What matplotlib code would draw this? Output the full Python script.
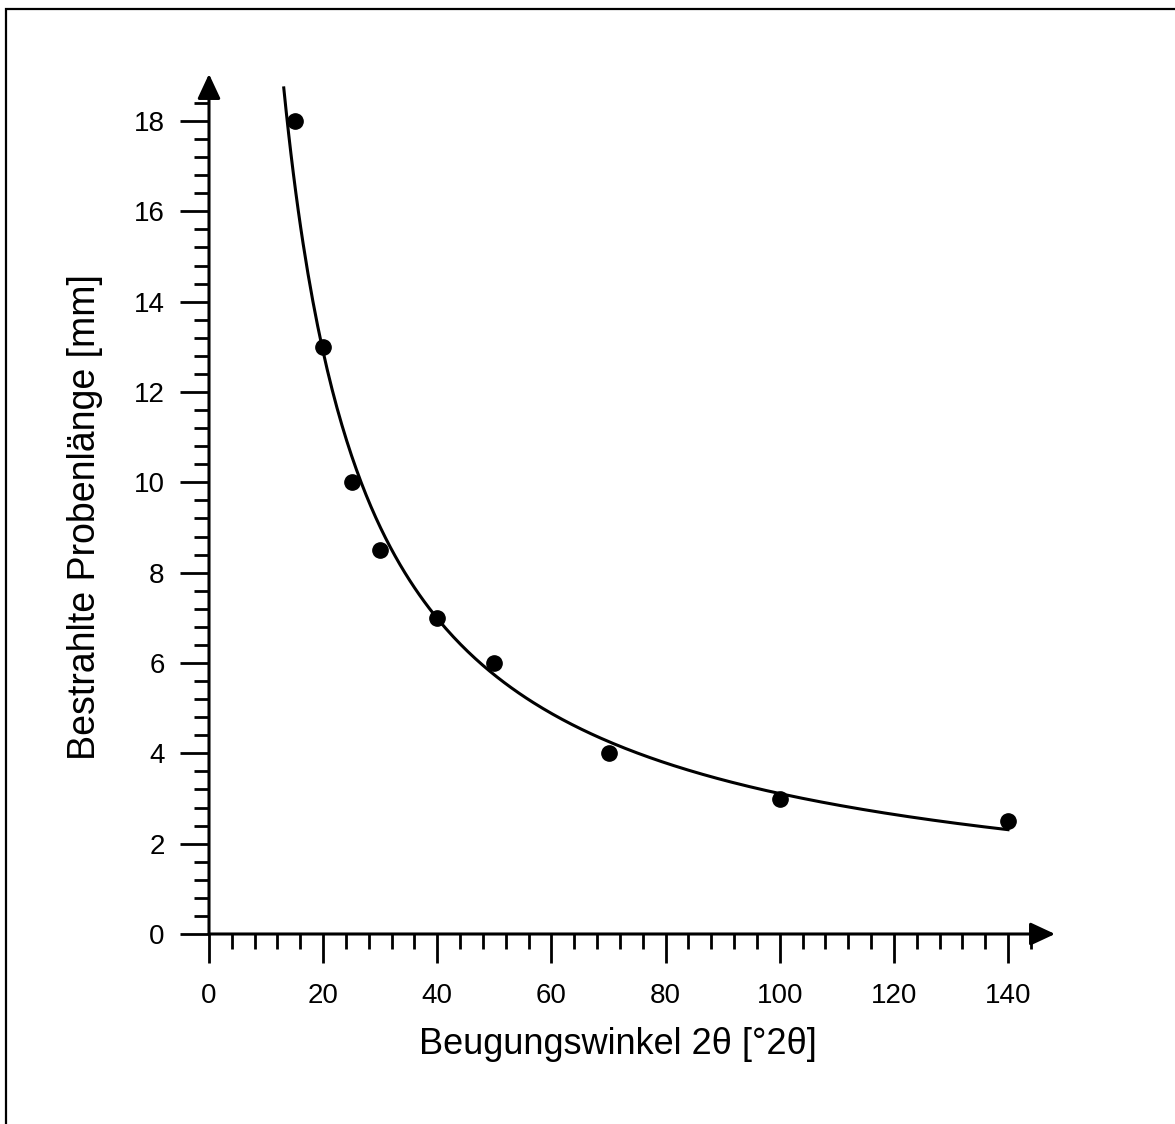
import numpy as np
import matplotlib
matplotlib.use("Agg")
import matplotlib.pyplot as plt
from matplotlib.ticker import FixedLocator
from matplotlib.patches import Rectangle

# measured points
winkel = [15, 20, 25, 30, 40, 50, 70, 100, 140]
laenge = [18, 13, 10, 8.5, 7, 6, 4, 3, 2.5]

x_ticks = [0, 20, 40, 60, 80, 100, 120, 140]
y_ticks = [0, 2, 4, 6, 8, 10, 12, 14, 16, 18]

plt.rcParams['font.family'] = ['Liberation Sans', 'DejaVu Sans']

fig = plt.figure(figsize=(11.75, 11.24), dpi=100)
W, H = 1175, 1124

# axes placed so x=0 at px 209, y=0 at px 934 (from top)
x0_px, x_tip_px = 209, 1055
y0_px, y_tip_px = 934, 74
px_per_x = (1008 - 209) / 140
px_per_y = (934 - 121) / 18
xmax = (x_tip_px - x0_px) / px_per_x
ymax = (y0_px - y_tip_px) / px_per_y

ax = fig.add_axes([x0_px / W, (H - y0_px) / H,
                   (x_tip_px - x0_px) / W, (y0_px - y_tip_px) / H])
ax.set_xlim(0, xmax)
ax.set_ylim(0, ymax)

for s in ax.spines.values():
    s.set_visible(False)

# axis lines with arrow heads
arrow = dict(arrowstyle="-|>,head_length=1.5,head_width=0.7", color='black',
             lw=2.2, shrinkA=0, shrinkB=0)
ax.annotate("", xy=(xmax, 0), xytext=(0, 0), arrowprops=arrow,
            annotation_clip=False)
ax.annotate("", xy=(0, ymax), xytext=(0, 0), arrowprops=arrow,
            annotation_clip=False)

ax.set_xticks(x_ticks)
ax.set_yticks(y_ticks)
ax.xaxis.set_minor_locator(FixedLocator(np.arange(0, 145, 4)))
ax.yaxis.set_minor_locator(FixedLocator(np.arange(0, 18.5, 0.4)))
ax.tick_params(which='major', direction='out', length=21, width=2, labelsize=20)
ax.tick_params(which='minor', direction='out', length=10.5, width=2)
ax.tick_params(axis='x', which='major', pad=14)
ax.tick_params(axis='y', which='major', pad=11)

# power-law fit through the points
b, ln_a = np.polyfit(np.log(winkel), np.log(laenge), 1)
xf = np.linspace(13.1, 140, 300)
ax.plot(xf, np.exp(ln_a) * xf ** b, color='black', lw=2.2, clip_on=False)

ax.plot(winkel, laenge, 'o', color='black', markersize=11, clip_on=False)

fig.text(618 / W, 1 - 1045 / H, "Beugungswinkel 2θ [°2θ]",
         ha='center', va='center', fontsize=26)
fig.text(85 / W, 1 - 517 / H, "Bestrahlte Probenlänge [mm]",
         ha='center', va='center', rotation=90, fontsize=27)

# outer frame (runs off the right and bottom edge)
fig.add_artist(Rectangle((6 / W, -0.05), 1.1, 1 - 9 / H + 0.05,
                         transform=fig.transFigure, fill=False,
                         edgecolor='black', lw=1.6))

fig.savefig("out.png", dpi=100)
